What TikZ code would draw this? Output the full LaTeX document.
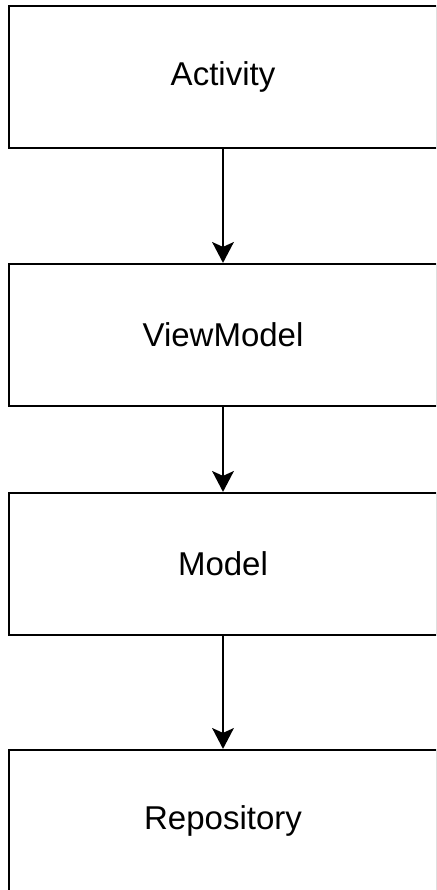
\documentclass[tikz,border=0pt]{standalone}
\usepackage{fontspec}
\setmainfont{Liberation Sans}
\usetikzlibrary{arrows.meta}

\begin{document}
\begin{tikzpicture}[x=1pt, y=-1pt,
    layer/.style={draw, line width=2.2pt, fill=white, inner sep=0pt,
                  minimum width=428pt, minimum height=142pt,
                  font=\fontsize{33}{40}\selectfont},
    flow/.style={line width=1.4pt,
                 -{Stealth[width=22pt,length=21pt,inset=5pt,line width=0pt]}}]
      \useasboundingbox (0,0) rectangle (436,890);
      \clip (0,0) rectangle (436,890);
      \node[layer] (activity)   at (223, 77)  {Activity};
      \node[layer] (viewmodel)  at (223, 335) {ViewModel};
      \node[layer] (model)      at (223, 564) {Model};
      \node[layer] (repository) at (223, 821) {Repository};
      \draw[flow] (activity.south)  -- (viewmodel.north);
      \draw[flow] (viewmodel.south) -- (model.north);
      \draw[flow] (model.south)     -- (repository.north);
    \end{tikzpicture}
\end{document}
